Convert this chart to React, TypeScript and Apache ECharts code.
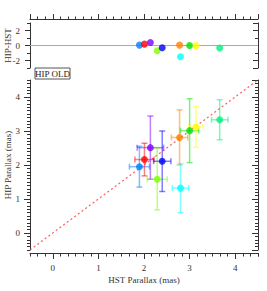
import React, { useEffect, useRef } from "react";
import * as echarts from "echarts";

const colors = ["#0080ff", "#ff0000", "#8000ff", "#80ff00", "#0000ff", "#ff8000", "#00ffff", "#00e000", "#ffff00", "#00f080"];
const hstParallax = [1.9, 2.01, 2.14, 2.29, 2.4, 2.78, 2.8, 3.0, 3.14, 3.66];
const hstErr = [0.22, 0.21, 0.29, 0.22, 0.19, 0.18, 0.18, 0.2, 0.16, 0.18];
const hipParallax = [1.95, 2.16, 2.51, 1.58, 2.11, 2.81, 1.32, 3.01, 3.12, 3.33];
const hipErr = [0.6, 0.48, 0.93, 0.9, 0.89, 0.81, 0.72, 0.94, 0.6, 0.59];
const hipMinusHst = [0.05, 0.18, 0.4, -0.7, -0.3, 0.05, -1.49, 0.0, -0.02, -0.34];

const FONT = "Liberation Serif";
const AX = "#333";

export default function App() {
  const ref = useRef<HTMLDivElement>(null);
  useEffect(() => {
    document.body.style.margin = "0";
    const chart = echarts.init(ref.current!, null, { renderer: "svg" });
    const ls = () => ({ color: AX, width: 1 });
    const axLine = () => ({ show: true, onZero: false, lineStyle: ls() });
    const noLine = () => ({ show: false, onZero: false });
    const noLabel = () => ({ show: false });
    const labelStyle = () => ({ fontFamily: FONT, fontSize: 9, color: AX, margin: 10, showMinLabel: false, showMaxLabel: false });
    const xBase = () => ({ type: "value", min: -0.5, max: 4.5, splitLine: { show: false } });
    const xAxes: any[] = [
      { ...xBase(), gridIndex: 0, position: "top", offset: 4, splitNumber: 5, axisLine: axLine(), axisTick: { show: true, length: 5, lineStyle: ls() }, axisLabel: noLabel() },
      { ...xBase(), gridIndex: 0, position: "top", offset: 4, interval: 1 / 6, axisLine: noLine(), axisTick: { show: true, length: 2.5, lineStyle: ls() }, axisLabel: noLabel() },
      { ...xBase(), gridIndex: 1, position: "bottom", offset: 3, splitNumber: 5, axisLine: axLine(), axisTick: { show: true, length: 6, lineStyle: ls() }, axisLabel: labelStyle() },
      { ...xBase(), gridIndex: 1, position: "bottom", offset: 3, interval: 1 / 6, axisLine: noLine(), axisTick: { show: true, length: 3.5, lineStyle: ls() }, axisLabel: noLabel() },
    ];
    const yRes = () => ({ type: "value", min: -3, max: 3, splitLine: { show: false }, gridIndex: 0 });
    const yMain = () => ({ type: "value", min: -0.5, max: 4.5, splitLine: { show: false }, gridIndex: 1 });
    const yAxes: any[] = [
      { ...yRes(), position: "left", splitNumber: 3, axisLine: axLine(), axisTick: { show: true, length: 5, lineStyle: ls() }, axisLabel: labelStyle() },
      { ...yMain(), position: "left", splitNumber: 5, axisLine: axLine(), axisTick: { show: true, length: 6, lineStyle: ls() }, axisLabel: labelStyle() },
      { ...yRes(), position: "left", interval: 1, axisLine: noLine(), axisTick: { show: true, length: 3, lineStyle: ls() }, axisLabel: noLabel() },
      { ...yRes(), position: "right", splitNumber: 3, axisLine: axLine(), axisTick: { show: true, inside: true, length: 5, lineStyle: ls() }, axisLabel: noLabel() },
      { ...yRes(), position: "right", interval: 1, axisLine: noLine(), axisTick: { show: true, inside: true, length: 3, lineStyle: ls() }, axisLabel: noLabel() },
      { ...yMain(), position: "left", interval: 0.1, axisLine: noLine(), axisTick: { show: true, length: 3, lineStyle: ls() }, axisLabel: noLabel() },
      { ...yMain(), position: "right", splitNumber: 5, axisLine: axLine(), axisTick: { show: true, inside: true, length: 6, lineStyle: ls() }, axisLabel: noLabel() },
      { ...yMain(), position: "right", interval: 0.1, axisLine: noLine(), axisTick: { show: true, inside: true, length: 3, lineStyle: ls() }, axisLabel: noLabel() },
    ];

    const errData = hstParallax.map((x, i) => [x, hipParallax[i], hstErr[i], hipErr[i], i]);
    const cap = 3;
    const renderItem = (params: any, api: any) => {
      const x = api.value(0), y = api.value(1), xe = api.value(2), ye = api.value(3);
      const c = colors[api.value(4)];
      const l = api.coord([x - xe, y]);
      const r = api.coord([x + xe, y]);
      const t = api.coord([x, y + ye]);
      const b = api.coord([x, y - ye]);
      const style = { stroke: c, lineWidth: 1.5, opacity: 0.5 };
      const seg = (x1: number, y1: number, x2: number, y2: number) => ({ type: "line", shape: { x1, y1, x2, y2 }, style });
      return {
        type: "group",
        children: [
          seg(l[0], l[1], r[0], r[1]),
          seg(t[0], t[1], b[0], b[1]),
          seg(l[0], l[1] - cap, l[0], l[1] + cap),
          seg(r[0], r[1] - cap, r[0], r[1] + cap),
          seg(t[0] - cap, t[1], t[0] + cap, t[1]),
          seg(b[0] - cap, b[1], b[0] + cap, b[1]),
        ],
      };
    };
    const font = `9px "${FONT}"`;

    chart.setOption({
      animation: false,
      grid: [
        { left: 30, top: 23, width: 228, height: 45 },
        { left: 30, top: 80, width: 228, height: 170 },
      ],
      xAxis: xAxes,
      yAxis: yAxes,
      graphic: [
        { type: "text", x: 8, y: 45.5, rotation: Math.PI / 2, style: { text: "HIP-HST", font, fill: AX, align: "center", verticalAlign: "middle" } },
        { type: "text", x: 8, y: 165, rotation: Math.PI / 2, style: { text: "HIP Parallax (mas)", font, fill: AX, align: "center", verticalAlign: "middle" } },
        { type: "text", x: 144, y: 280, style: { text: "HST Parallax (mas)", font, fill: AX, align: "center", verticalAlign: "middle" } },
        {
          type: "group",
          x: 35,
          y: 68,
          children: [
            { type: "rect", shape: { x: 0, y: 0, width: 35, height: 11 }, style: { fill: "#fff", stroke: "#555", lineWidth: 1 } },
            { type: "text", x: 17.5, y: 6, style: { text: "HIP OLD", font, fill: "#222", align: "center", verticalAlign: "middle" } },
          ],
        },
      ],
      series: [
        {
          type: "line",
          xAxisIndex: 0,
          yAxisIndex: 0,
          data: [[-0.5, 0], [4.5, 0]],
          symbol: "none",
          lineStyle: { color: "#aaa", width: 1 },
          silent: true,
          z: 1,
        },
        {
          type: "scatter",
          xAxisIndex: 0,
          yAxisIndex: 0,
          symbolSize: 7,
          data: hstParallax.map((x, i) => ({ value: [x, hipMinusHst[i]], itemStyle: { color: colors[i] } })),
          z: 3,
        },
        {
          type: "line",
          xAxisIndex: 2,
          yAxisIndex: 1,
          data: [[-0.5, -0.5], [4.5, 4.5]],
          symbol: "none",
          lineStyle: { color: "#ff4a4a", width: 1.3, type: [2, 2.6], opacity: 0.85 },
          silent: true,
          z: 1,
        },
        {
          type: "custom",
          xAxisIndex: 2,
          yAxisIndex: 1,
          renderItem,
          data: errData,
          z: 2,
        },
        {
          type: "scatter",
          xAxisIndex: 2,
          yAxisIndex: 1,
          symbolSize: 7,
          data: hstParallax.map((x, i) => ({ value: [x, hipParallax[i]], itemStyle: { color: colors[i] } })),
          z: 3,
        },
      ],
    });
    return () => chart.dispose();
  }, []);
  return <div ref={ref} style={{ width: 267, height: 291 }} />;
}
